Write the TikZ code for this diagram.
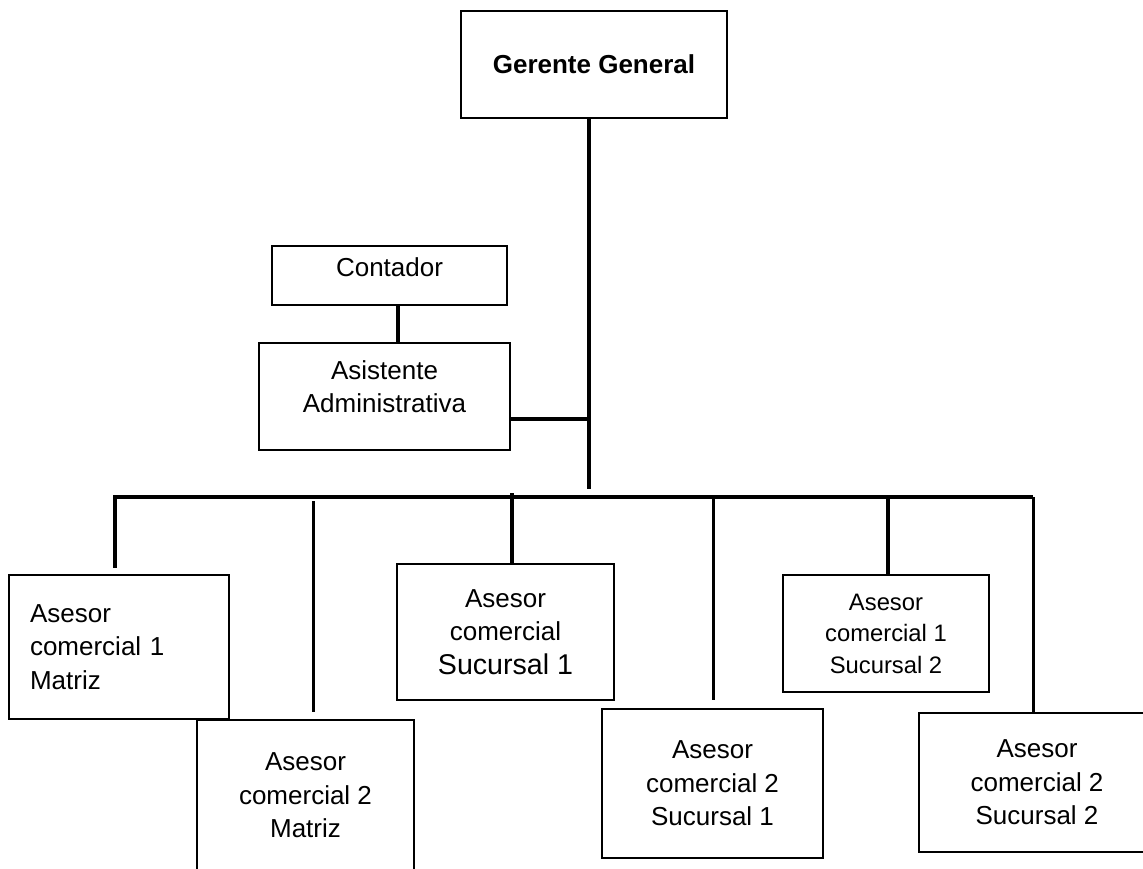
\documentclass[tikz,border=0pt]{standalone}
\usepackage{fontspec}
\setmainfont{Liberation Sans}

\begin{document}
\begin{tikzpicture}[x=0.5pt,y=-0.5pt,
  box/.style={rectangle,draw=black,line width=1.3pt,fill=white,align=center,
              inner sep=0pt,font=\fontsize{13}{16.75}\selectfont},
  trunkwire/.style={line width=2.4pt},
  thickwire/.style={line width=2pt},
  thinwire/.style={line width=1.5pt}
]
  \useasboundingbox (0,0) rectangle (1143,868);

  \node[box,minimum width=133pt,minimum height=53.5pt,
        font=\bfseries\fontsize{13}{16.75}\selectfont] (gg) at (594,64.5) {Gerente General};
  \node[box,minimum width=117.5pt,minimum height=29.5pt,text depth=8.5pt] (cont) at (389.5,275.5) {Contador};
  \node[box,minimum width=125.5pt,minimum height=53.5pt,text depth=10pt] (asis) at (384.5,396.5) {Asistente\\Administrativa};

  \node[box,minimum width=110pt,minimum height=72pt,text width=89pt,align=left] (m1) at (119,647) {Asesor\\comercial 1\\Matriz};
  \node[box,minimum width=108.5pt,minimum height=75.5pt] (m2) at (305.5,795.5) {Asesor\\comercial 2\\Matriz};
  \node[box,minimum width=108.5pt,minimum height=68pt] (s1a) at (505.5,632) {Asesor\\comercial\\{\fontsize{14.3}{17.5}\selectfont Sucursal 1}};
  \node[box,minimum width=110.5pt,minimum height=74.5pt] (s1b) at (712.5,783.5) {Asesor\\comercial 2\\Sucursal 1};
  \node[box,minimum width=103pt,minimum height=58.5pt,
        font=\fontsize{11.9}{15.75}\selectfont] (s2a) at (886,633.5) {Asesor\\comercial 1\\Sucursal 2};
  \node[box,minimum width=118pt,minimum height=69.5pt] (s2b) at (1037,782.5) {Asesor\\comercial 2\\Sucursal 2};

  \coordinate (hub) at (589,489);
  \coordinate (jn)  at (589,419);
  \coordinate (bl)  at (115,497);
  \coordinate (br)  at (1033,497);
  \coordinate (d2)  at (313,501);
  \coordinate (d3)  at (512,493);
  \coordinate (d4)  at (713,497);
  \coordinate (d5)  at (888,497);

  \draw[trunkwire] (hub |- gg.south) -- (hub);
  \draw[thickwire] (jn) -- (jn -| asis.east);
  \draw[thickwire] ([xshift=4.25pt]cont.south) -- ([xshift=4.25pt]cont.south |- asis.north);
  \draw[thickwire,line join=miter,shorten <=3pt] (bl |- m1.north) -- (bl) -- (br);
  \draw[thinwire,shorten >=3.5pt] (d2) -- (d2 |- m2.north);
  \draw[thickwire] (d3) -- (d3 |- s1a.north);
  \draw[thinwire,shorten >=4pt] (d4) -- (d4 |- s1b.north);
  \draw[thickwire] (d5) -- (d5 |- s2a.north);
  \draw[thinwire] (br) -- (br |- s2b.north);
\end{tikzpicture}
\end{document}
